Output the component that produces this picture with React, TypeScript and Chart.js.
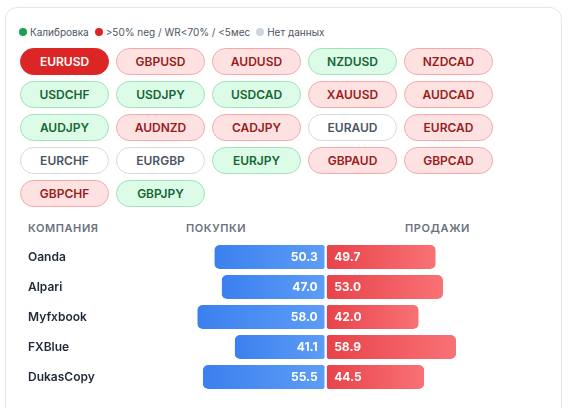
import React, { useEffect, useRef } from "react";
import { Chart, registerables } from "chart.js";

Chart.register(...registerables);

const legendItems = ["Калибровка", ">50% neg / WR<70% / <5мес", "Нет данных"];
const legendColors = ["#16a34a", "#dc2626", "#cbd5e1"];

const pairs = [
  "EURUSD", "GBPUSD", "AUDUSD", "NZDUSD", "NZDCAD",
  "USDCHF", "USDJPY", "USDCAD", "XAUUSD", "AUDCAD",
  "AUDJPY", "AUDNZD", "CADJPY", "EURAUD", "EURCAD",
  "EURCHF", "EURGBP", "EURJPY", "GBPAUD", "GBPCAD",
  "GBPCHF", "GBPJPY",
];
const pairStates = [
  "active", "red", "red", "green", "red",
  "green", "green", "green", "red", "red",
  "green", "red", "red", "none", "red",
  "none", "none", "green", "red", "red",
  "red", "green",
];

const headers = ["КОМПАНИЯ", "ПОКУПКИ", "ПРОДАЖИ"];
const companies = ["Oanda", "Alpari", "Myfxbook", "FXBlue", "DukasCopy"];
const buys = [50.3, 47.0, 58.0, 41.1, 55.5];
const sells = [49.7, 53.0, 42.0, 58.9, 44.5];

const FONT = "Inter, 'Noto Sans', sans-serif";

const pillStyles: Record<string, React.CSSProperties> = {
  active: { background: "#dc2626", border: "1px solid #dc2626", color: "#ffffff" },
  red: { background: "#fee2e2", border: "1px solid #f3a9a9", color: "#991b1b" },
  green: { background: "#dcfce7", border: "1px solid #9fe3b6", color: "#166534" },
  none: { background: "#ffffff", border: "1px solid #d6d9de", color: "#4b5563" },
};

function gradientFor(chart: any, from: number, to: number, c0: string, c1: string, fallback: string) {
  const xs = chart.scales && chart.scales.x;
  if (!chart.chartArea || !xs) return fallback;
  const x0 = xs.getPixelForValue(from);
  const x1 = xs.getPixelForValue(to);
  if (!isFinite(x0) || !isFinite(x1) || x0 === x1) return fallback;
  const g = chart.ctx.createLinearGradient(Math.min(x0, x1), 0, Math.max(x0, x1), 0);
  g.addColorStop(0, c0);
  g.addColorStop(1, c1);
  return g;
}

const valueLabels = {
  id: "valueLabels",
  afterDatasetsDraw(chart: any) {
    const ctx = chart.ctx;
    ctx.save();
    ctx.textBaseline = "middle";
    chart.data.datasets.forEach((ds: any, di: number) => {
      const meta = chart.getDatasetMeta(di);
      meta.data.forEach((el: any, i: number) => {
        const v = di === 0 ? buys[i] : sells[i];
        const txt = v.toFixed(1);
        ctx.font = `700 12px ${FONT}`;
        ctx.fillStyle = "#ffffff";
        if (di === 0) {
          ctx.textAlign = "right";
          ctx.fillText(txt, el.base - 8, el.y + 0.5);
          ctx.font = `600 12px ${FONT}`;
          ctx.fillStyle = "#1f2937";
          ctx.textAlign = "left";
          ctx.fillText(chart.data.labels[i], 0, el.y + 0.5);
        } else {
          ctx.textAlign = "left";
          ctx.fillText(txt, el.base + 8.5, el.y + 0.5);
        }
      });
    });
    ctx.restore();
  },
};

function BarsChart() {
  const ref = useRef<HTMLCanvasElement | null>(null);
  useEffect(() => {
    if (!ref.current) return;
    const chart = new Chart(ref.current, {
      type: "bar",
      data: {
        labels: companies,
        datasets: [
          {
            label: "Покупки",
            data: buys.map((v) => -v),
            backgroundColor: (c: any) =>
              gradientFor(c.chart, -buys[c.dataIndex] || 0, 0, "#3b80ef", "#5d9df6", "#4a8ff3"),
            borderColor: "#ffffff",
            borderWidth: { top: 0, bottom: 0, left: 0, right: 1.2 },
            borderSkipped: false,
            borderRadius: { topLeft: 5, bottomLeft: 5, topRight: 3, bottomRight: 3 },
            barPercentage: 0.8,
            categoryPercentage: 1,
          },
          {
            label: "Продажи",
            data: sells,
            backgroundColor: (c: any) =>
              gradientFor(c.chart, 0, sells[c.dataIndex] || 0, "#e8424a", "#f87275", "#ef5a5f"),
            borderColor: "#ffffff",
            borderWidth: { top: 0, bottom: 0, left: 1.2, right: 0 },
            borderSkipped: false,
            borderRadius: { topLeft: 3, bottomLeft: 3, topRight: 5, bottomRight: 5 },
            barPercentage: 0.8,
            categoryPercentage: 1,
          },
        ],
      },
      options: {
        indexAxis: "y",
        responsive: false,
        animation: false,
        layout: { padding: { left: 0, right: 12.9, top: 0, bottom: 0 } },
        plugins: { legend: { display: false }, tooltip: { enabled: false } },
        scales: {
          x: { display: false, stacked: true, min: -100, max: 100 },
          y: {
            stacked: true,
            grid: { display: false },
            border: { display: false },
            ticks: { display: false },
            afterFit: (scale: any) => {
              scale.width = 76.3;
            },
          },
        },
      },
      plugins: [valueLabels],
    } as any);
    return () => chart.destroy();
  }, []);
  return (
    <canvas
      ref={ref}
      width={532}
      height={150}
      style={{ position: "absolute", left: 28, top: 242, width: 532, height: 150 }}
    />
  );
}

export default function App() {
  const headerX = [28, 186, 405];
  return (
    <div
      style={{
        position: "absolute",
        left: 0,
        top: 0,
        width: 568,
        height: 408,
        overflow: "hidden",
        background: "#ffffff",
        fontFamily: FONT,
      }}
    >
      <div
        style={{
          position: "absolute",
          left: 5,
          top: 7,
          width: 555,
          height: 440,
          border: "1px solid #e4e6ea",
          borderRadius: 12,
          background: "#ffffff",
        }}
      />
      <div
        style={{
          position: "absolute",
          left: 19,
          top: 25,
          height: 14,
          display: "flex",
          alignItems: "center",
          fontSize: 10,
          color: "#4b5563",
          whiteSpace: "nowrap",
        }}
      >
        {legendItems.map((t, i) => (
          <span key={t} style={{ display: "flex", alignItems: "center", marginRight: 6 }}>
            <span
              style={{
                width: 8,
                height: 8,
                borderRadius: 4,
                background: legendColors[i],
                display: "inline-block",
                marginRight: 3,
              }}
            />
            {t}
          </span>
        ))}
      </div>
      {pairs.map((p, i) => {
        const col = i % 5;
        const row = Math.floor(i / 5);
        return (
          <div
            key={p}
            style={{
              position: "absolute",
              left: 20 + col * 96,
              top: 48 + row * 33,
              width: 89,
              height: 27,
              boxSizing: "border-box",
              borderRadius: 14,
              display: "flex",
              alignItems: "center",
              justifyContent: "center",
              fontSize: 12,
              fontWeight: 600,
              ...pillStyles[pairStates[i]],
            }}
          >
            {p}
          </div>
        );
      })}
      {headers.map((h, i) => (
        <div
          key={h}
          style={{
            position: "absolute",
            left: headerX[i],
            top: 221,
            height: 14,
            lineHeight: "14px",
            fontSize: 11,
            fontWeight: 600,
            letterSpacing: 0.6,
            color: "#6b7280",
          }}
        >
          {h}
        </div>
      ))}
      <BarsChart />
    </div>
  );
}
